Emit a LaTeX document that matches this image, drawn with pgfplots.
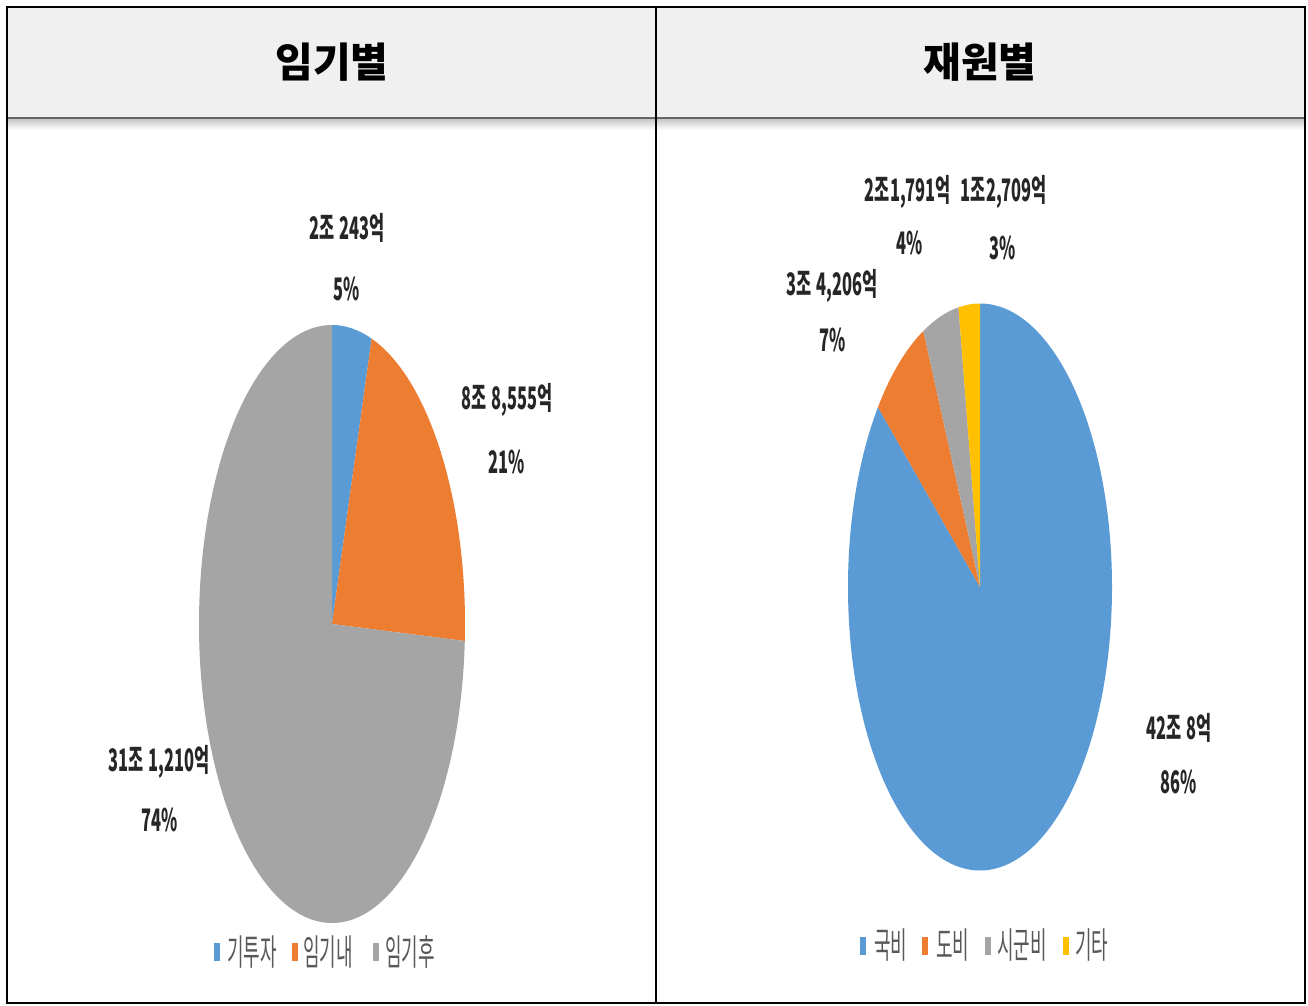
\documentclass[border=0pt]{standalone}
\usepackage{pgfplots}
\pgfplotsset{compat=1.18}
\usepackage{pgfplotstable}
\usepackage{fontspec}
\setmainfont{Noto Sans CJK KR}
\newfontfamily\krlab{Noto Sans CJK KR}[FakeStretch=0.53]
\newfontfamily\krleg{Noto Sans CJK KR}[FakeStretch=0.5]

\definecolor{cBlue}{HTML}{5B9BD5}
\definecolor{cOrange}{HTML}{ED7D31}
\definecolor{cGray}{HTML}{A5A5A5}
\definecolor{cGold}{HTML}{FFC000}
\definecolor{hdr}{HTML}{F0F0F0}
\definecolor{legtxt}{HTML}{595959}

% values in 억 (임기별: 기투자, 임기내, 임기후)
\pgfplotstableread{
value
20243
88555
311210
}\termtbl
% values in 억 (재원별: 국비, 도비, 시군비, 기타)
\pgfplotstableread{
value
420008
34206
21791
12709
}\fundtbl

\newcommand\getval[3]{\pgfplotstablegetelem{#2}{value}\of#1\edef#3{\pgfplotsretval}}
\getval\termtbl{0}\tA \getval\termtbl{1}\tB \getval\termtbl{2}\tC
\getval\fundtbl{0}\fA \getval\fundtbl{1}\fB \getval\fundtbl{2}\fC \getval\fundtbl{3}\fD
\edef\tTot{\fpeval{\tA+\tB+\tC}}
\edef\tAngA{\fpeval{round(90-360*\tA/\tTot,4)}}
\edef\tAngB{\fpeval{round(\tAngA-360*\tB/\tTot,4)}}
\edef\fTot{\fpeval{\fA+\fB+\fC+\fD}}
\edef\fAngA{\fpeval{round(90-360*\fA/\fTot,4)}}
\edef\fAngB{\fpeval{round(\fAngA-360*\fB/\fTot,4)}}
\edef\fAngC{\fpeval{round(\fAngB-360*\fC/\fTot,4)}}

% colour, cx, cy, rx, ry, start, end (clockwise)
\newcommand\slice[7]{%
  \fill[#1] (axis cs:#2,#3) -- ++({#4*cos(#6)},{#5*sin(#6)})
    arc[start angle=#6, end angle=#7, x radius=#4, y radius=#5] -- cycle;}
\newcommand\gap{\hspace{2.5pt}}

\begin{document}
\begin{tikzpicture}
\begin{axis}[
    scale only axis,
    width=654pt, height=503pt,
    xmin=0, xmax=1308, ymin=0, ymax=1006,
    y dir=reverse,
    hide axis,
    clip=false
  ]
  \fill[white] (axis cs:0,0) rectangle (axis cs:1308,1006);
  % header
  \fill[hdr] (axis cs:7,7) rectangle (axis cs:1305,118);
  \shade[top color=black!22, bottom color=white] (axis cs:8,119) rectangle (axis cs:1304,130);
  \draw[line width=1pt, black!60] (axis cs:7,118) -- (axis cs:1305,118);
  \draw[line width=1pt] (axis cs:7,7) rectangle (axis cs:1305,1003);
  \draw[line width=1pt] (axis cs:656,7) -- (axis cs:656,1003);
  \node[font=\fontsize{20.5}{24}\selectfont\bfseries] at (axis cs:332,62) {임기별};
  \node[font=\fontsize{20.5}{24}\selectfont\bfseries] at (axis cs:980,62) {재원별};

  % left pie
  \slice{cBlue}{332}{624}{66.5pt}{149.5pt}{90}{\tAngA}
  \slice{cOrange}{332}{624}{66.5pt}{149.5pt}{\tAngA}{\tAngB}
  \slice{cGray}{332}{624}{66.5pt}{149.5pt}{\tAngB}{-270}

  % right pie
  \slice{cBlue}{980}{587}{66pt}{141.75pt}{90}{\fAngA}
  \slice{cOrange}{980}{587}{66pt}{141.75pt}{\fAngA}{\fAngB}
  \slice{cGray}{980}{587}{66pt}{141.75pt}{\fAngB}{\fAngC}
  \slice{cGold}{980}{587}{66pt}{141.75pt}{\fAngC}{-270}

  \tikzset{lab/.style={font=\fontsize{15.5}{17}\selectfont\krlab\bfseries, inner sep=0pt, text=black!85}}
  \node[lab] at (axis cs:347,228) {2조\gap243억};
  \node[lab] at (axis cs:347,289) {5\%};
  \node[lab] at (axis cs:507,400) {8조\gap8,555억};
  \node[lab] at (axis cs:507,462) {21\%};
  \node[lab] at (axis cs:159,762) {31조\gap1,210억};
  \node[lab] at (axis cs:160,820) {74\%};

  \node[lab] at (axis cs:908,192) {2조1,791억};
  \node[lab] at (axis cs:910,243) {4\%};
  \node[lab] at (axis cs:1004,192) {1조2,709억};
  \node[lab] at (axis cs:1003,248) {3\%};
  \node[lab] at (axis cs:832,286) {3조\gap4,206억};
  \node[lab] at (axis cs:833,340) {7\%};
  \node[lab] at (axis cs:1179,728) {42조\gap8억};
  \node[lab] at (axis cs:1179,782) {86\%};

  % legends
  \tikzset{leg/.style={font=\fontsize{18}{20}\selectfont\krleg, inner sep=0pt, text=legtxt, anchor=west}}
  \fill[cBlue]   (axis cs:214,943) rectangle (axis cs:220,961);
  \node[leg] at (axis cs:227,952) {기투자};
  \fill[cOrange] (axis cs:292,943) rectangle (axis cs:298,961);
  \node[leg] at (axis cs:303,952) {임기내};
  \fill[cGray]   (axis cs:373,943) rectangle (axis cs:379,961);
  \node[leg] at (axis cs:385,952) {임기후};

  \fill[cBlue]   (axis cs:860,937) rectangle (axis cs:866,955);
  \node[leg] at (axis cs:874,945) {국비};
  \fill[cOrange] (axis cs:922,937) rectangle (axis cs:928,955);
  \node[leg] at (axis cs:936,945) {도비};
  \fill[cGray]   (axis cs:985,937) rectangle (axis cs:991,955);
  \node[leg] at (axis cs:997,945) {시군비};
  \fill[cGold]   (axis cs:1063,937) rectangle (axis cs:1069,955);
  \node[leg] at (axis cs:1075,945) {기타};
\end{axis}
\end{tikzpicture}
\end{document}
